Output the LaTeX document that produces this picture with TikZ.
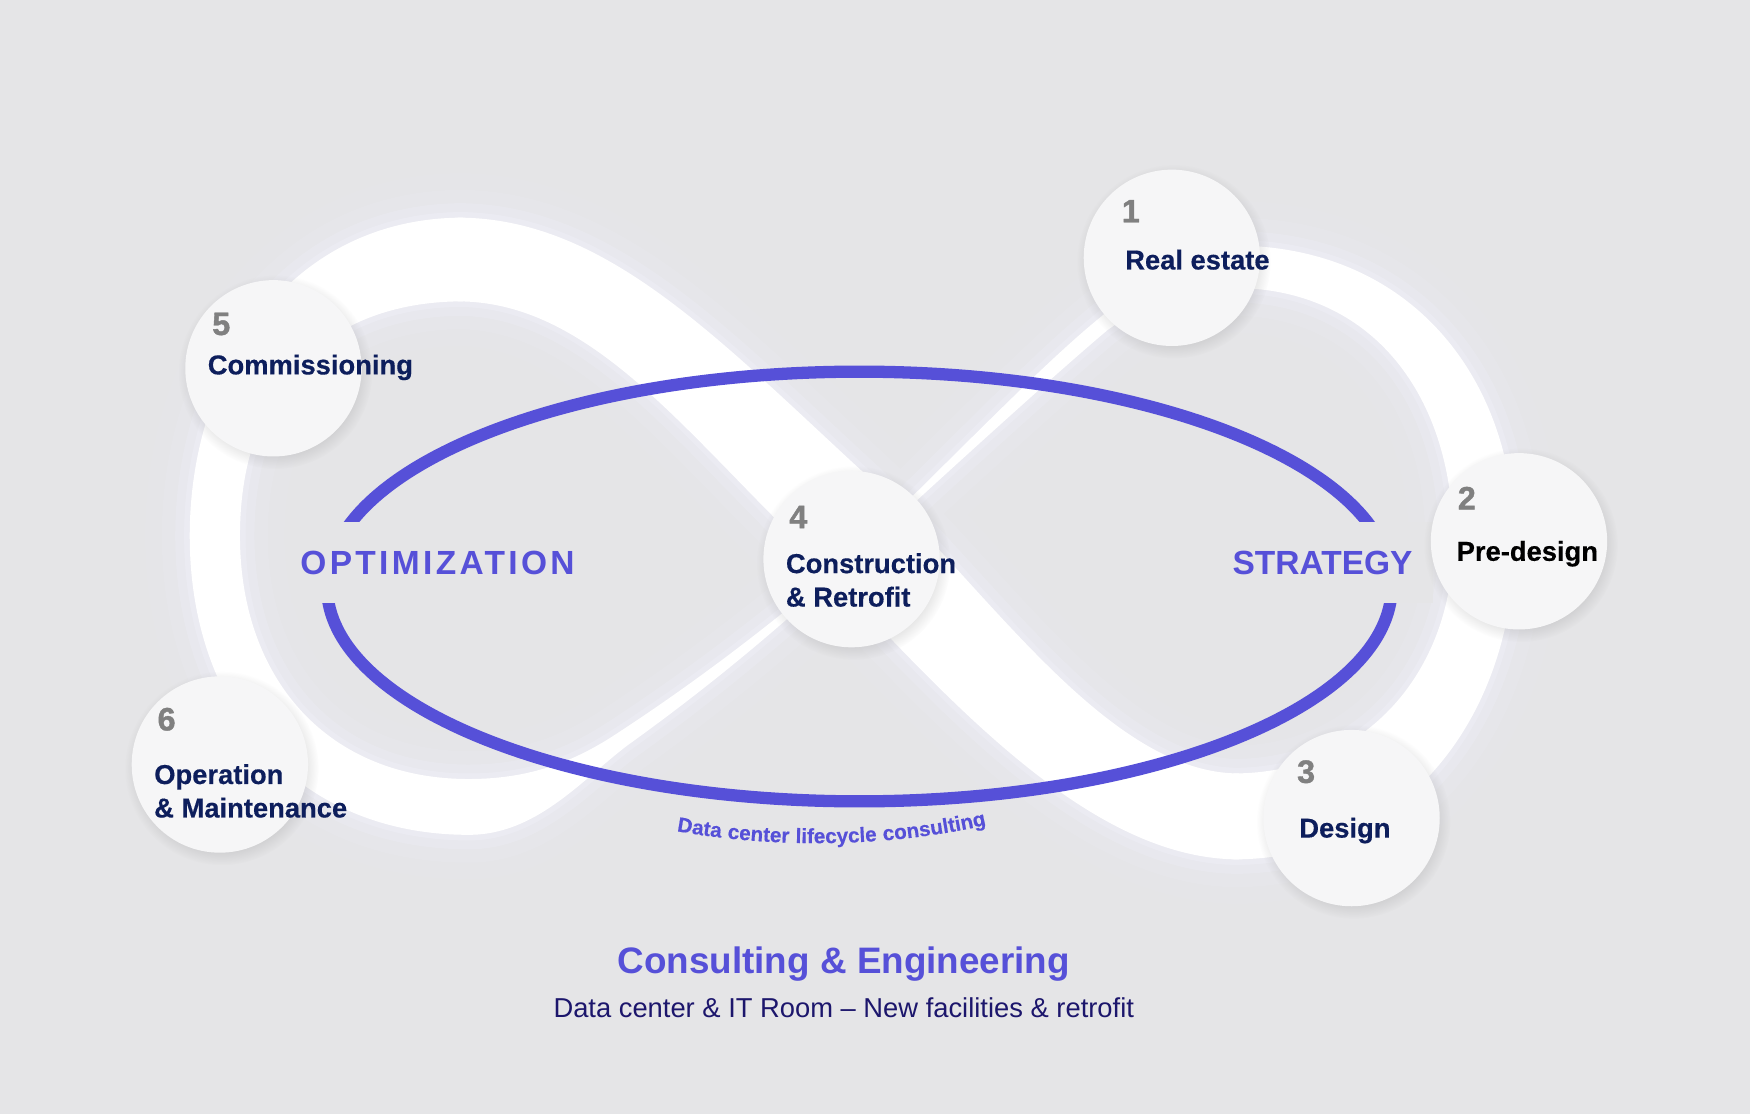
\documentclass[tikz,border=0pt]{standalone}
\usepackage{fontspec}
\setmainfont{Liberation Sans}
\usetikzlibrary{shadows}
\usetikzlibrary{decorations.text}

\definecolor{bg}{RGB}{229,229,231}
\definecolor{glow}{RGB}{240,240,250}
\definecolor{cfill}{RGB}{246,246,247}
\definecolor{cviolet}{RGB}{86,80,216}
\definecolor{navy}{RGB}{13,30,92}
\definecolor{numgray}{RGB}{128,128,128}
\definecolor{subblue}{RGB}{28,22,108}

\newcommand\numfont{\fontsize{29}{32}\selectfont\bfseries\addfontfeature{FakeBold=1.2}}
\newcommand\labfont{\fontsize{24.5}{30}\selectfont\bfseries\addfontfeature{FakeBold=0.4}}

% the four pieces of the white ribbon
\newcommand\loopL{(415,195) .. controls (260,195) and (170,330) .. (170,480) .. controls (170,640) and (270,748) .. (420,748) -- (420,698) .. controls (295,698) and (215,610) .. (215,480) .. controls (215,350) and (290,270) .. (415,270) -- cycle}
\newcommand\loopR{(1105,220) .. controls (1265,220) and (1357,340) .. (1357,485) .. controls (1357,640) and (1260,770) .. (1105,770) -- (1105,693) .. controls (1225,693) and (1302,600) .. (1302,485) .. controls (1302,355) and (1230,258) .. (1105,258) -- cycle}
\newcommand\bandW{(410,195) .. controls (540,195) and (640,300) .. (770,420) .. controls (880,520) and (990,693) .. (1110,693) -- (1110,770) .. controls (960,770) and (820,590) .. (700,470) .. controls (600,370) and (520,270) .. (410,270) -- cycle}
\newcommand\bandT{(420,698) .. controls (470,698) and (510,685) .. (550,659) .. controls (630,607) and (700,552) .. (763,498) .. controls (850,414) and (930,330) .. (985,285) .. controls (1030,248) and (1070,220) .. (1115,220) -- (1115,258) .. controls (1060,258) and (1025,272) .. (992,296) .. controls (940,340) and (850,422) .. (763,502) .. controls (705,557) and (640,612) .. (562,668) .. controls (520,700) and (480,748) .. (420,748) -- cycle}

\begin{document}
\begin{tikzpicture}[x=1pt,y=-1pt,
  stage/.style={circle,fill=cfill,minimum size=158,inner sep=0pt,
    circular drop shadow={shadow xshift=1.5pt,shadow yshift=-3pt,opacity=.2}},
  num/.style={anchor=north west,inner sep=0pt,text=numgray,font=\numfont},
  lab/.style={anchor=north west,inner sep=0pt,text=navy,font=\labfont,align=left},
  phase/.style={fill=bg,text=cviolet,font=\fontsize{30}{32}\selectfont\bfseries,
    minimum height=72,inner sep=0pt}]
\fill[bg] (0,0) rectangle (1568,998);
\useasboundingbox (0,0) rectangle (1568,998);

% ribbon with its glow
\foreach \w/\o in {80/.08,50/.14,26/.25,10/.4}
  \draw[glow,line width=\w,opacity=\o,line join=round] \loopL \loopR \bandW \bandT;
\fill[white] \loopL;
\fill[white] \loopR;
\fill[white] \bandT;
\fill[white] \bandW;

% lifecycle ring
\draw[cviolet,line width=11] (770,525.5) ellipse [x radius=477,y radius=192.5];
\node[phase,minimum width=262] (opt) at (392,504) {\addfontfeature{LetterSpace=10}OPTIMIZATION};
\node[phase,minimum width=198] (str) at (1185,504) {STRATEGY};

% stages
\node[stage] (s1) at (1050,231) {};
\node[stage] (s2) at (1361,485) {};
\node[stage] (s3) at (1211,733) {};
\node[stage] (s4) at (763,501) {};
\node[stage] (s5) at (245,330) {};
\node[stage] (s6) at (197,685) {};

\node[num] (n1) at (1005,179) {1};
\node[num] (n2) at (1306,436) {2};
\node[num] (n3) at (1162,681) {3};
\node[num] (n4) at (707,453) {4};
\node[num] (n5) at (190,280) {5};
\node[num] (n6) at (141,634) {6};

\node[lab] (l1) at (1008,223.5) {Real estate};
\node[lab,text=black] (l2) at (1305,484.5) {Pre-design};
\node[lab] (l3) at (1164,732.5) {Design};
\node[lab] (l4) at (704,495.5) {Construction\\\& Retrofit};
\node[lab] (l5) at (186,317.5) {Commissioning};
\node[lab] (l6) at (138,684.5) {Operation\\\& Maintenance};

\path[decorate,decoration={text along path,text align=center,
  text={|\fontsize{18.5}{20}\selectfont\bfseries\addfontfeature{FakeBold=0.4,LetterSpace=3}\color{cviolet}|Data center lifecycle consulting}}]
  (597,743) .. controls (690,761) and (800,760) .. (893,737);

\node[anchor=base,text=cviolet,font=\fontsize{33}{36}\selectfont\bfseries] (title) at (756,872) {Consulting \& Engineering};
\node[anchor=base,text=subblue,font=\fontsize{24.5}{28}\selectfont] (sub) at (756,912) {Data center \& IT Room – New facilities \& retrofit};
\end{tikzpicture}
\end{document}
